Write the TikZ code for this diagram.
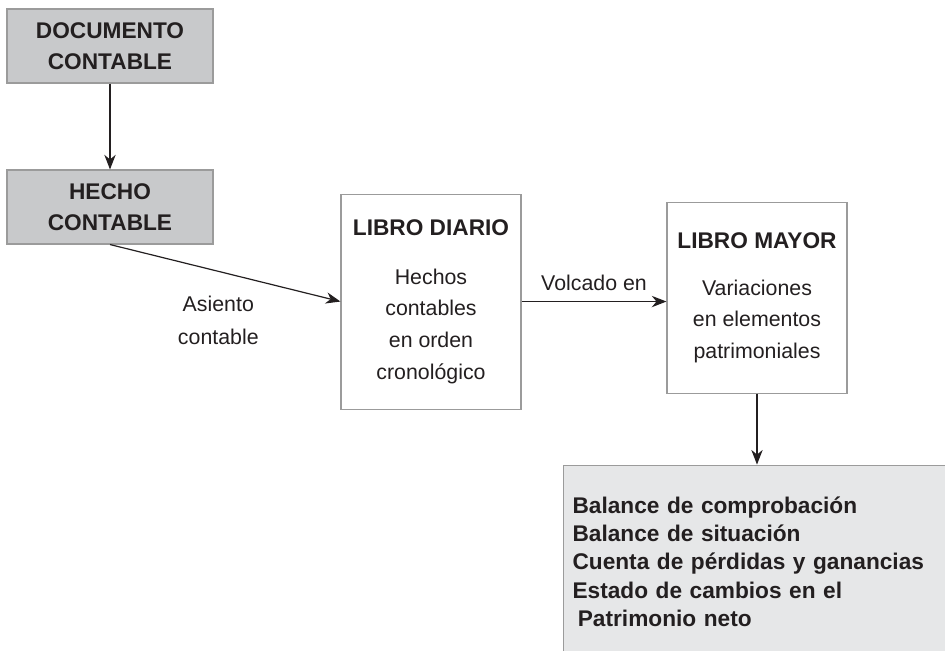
\documentclass[tikz,border=0pt]{standalone}
\usepackage{fontspec}
\setmainfont{Liberation Sans}
\usetikzlibrary{positioning,calc,arrows.meta}
\definecolor{boxgray}{HTML}{C8C9CB}
\definecolor{panelgray}{HTML}{E6E7E8}
\definecolor{edgegray}{HTML}{9B9B9B}
\definecolor{inkblack}{HTML}{231F20}
\tikzset{darkbox/.style={draw=edgegray,fill=boxgray,line width=0.8pt,minimum width=154.5pt,minimum height=55.5pt,align=center,text=inkblack,font=\bfseries\fontsize{17}{23.5}\selectfont}}
\tikzset{book/.style={draw=edgegray,fill=white,line width=0.8pt,minimum width=135pt,align=center,text=inkblack,font=\fontsize{16}{23.75}\selectfont}}
\tikzset{outbox/.style={draw=edgegray,fill=panelgray,line width=0.8pt,text width=280pt,inner xsep=6.75pt,minimum height=144.75pt,align=left,text=inkblack,font=\bfseries\fontsize{17}{21.25}\selectfont}}
\tikzset{lbl/.style={text=inkblack,align=center,font=\fontsize{16}{24.75}\selectfont}}
\tikzset{flow/.style={-{Stealth[length=11pt,width=8.5pt,inset=3.5pt]},line width=0.9pt,draw=inkblack}}
\newcommand{\hd}[1]{{\bfseries\fontsize{17}{23.75}\selectfont #1}}

\begin{document}
\begin{tikzpicture}[node distance=2cm,on grid]
  \useasboundingbox (-82.5pt,34.5pt) rectangle (626.25pt,-453pt);

  \node[darkbox] (doc) at (0,0) {DOCUMENTO\\CONTABLE};
  \node[darkbox] (hecho) [below=120.75pt of doc] {HECHO\\CONTABLE};
  \node[book,minimum height=161.25pt] (diario) [below right=70.9pt and 240.75pt of hecho]
    {\hd{LIBRO DIARIO}\\[13pt]Hechos\\contables\\en orden\\cronológico};
  \node[book,minimum height=143.25pt] (mayor) [right=244.5pt of diario,yshift=3pt]
    {\hd{LIBRO MAYOR}\\[11.5pt]Variaciones\\en elementos\\patrimoniales};
  \node[outbox,anchor=north west] (estados) at ($(mayor.south)+(-145.5pt,-53.25pt)$)
    {Balance de comprobación\\Balance de situación\\Cuenta de pérdidas y ganancias\\Estado de cambios en el\\\hspace*{4pt}Patrimonio neto};

  \draw[flow] (doc.south) -- (hecho.north);
  \draw[flow] (hecho.south) -- (diario.west)
    node[lbl,pos=0.47,below=15pt] (asiento) {Asiento\\contable};
  \draw[flow] (diario.east) -- (diario.east -| mayor.west)
    node[lbl,midway,above=4pt] (volcado) {Volcado en};
  \draw[flow] (mayor.south) -- (mayor.south |- estados.north);
\end{tikzpicture}
\end{document}
